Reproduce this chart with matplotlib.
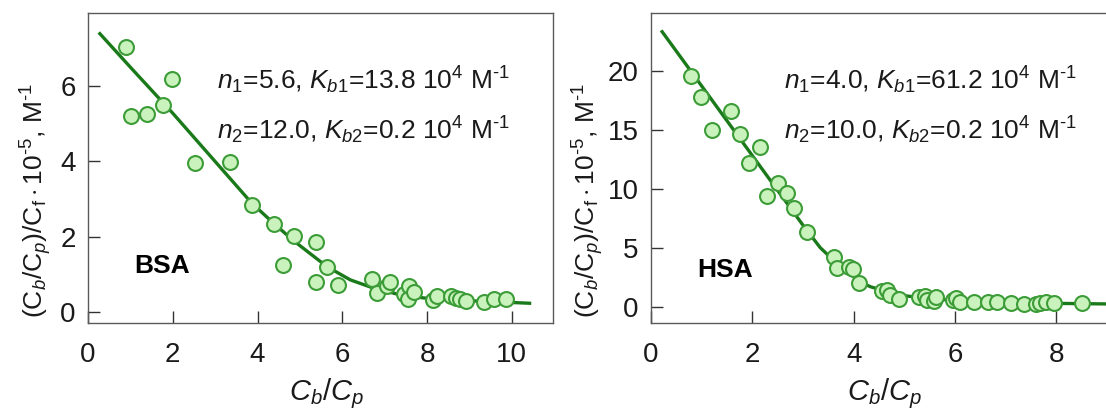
import matplotlib
matplotlib.use('Agg')
import matplotlib.pyplot as plt

plt.rcParams['font.family'] = ['Liberation Sans', 'DejaVu Sans']
plt.rcParams['mathtext.fontset'] = 'custom'
plt.rcParams['mathtext.rm'] = 'Liberation Sans'
plt.rcParams['mathtext.it'] = 'Liberation Sans:italic'
plt.rcParams['mathtext.bf'] = 'Liberation Sans:bold'

# ---------------- data ----------------
bsa_x = [0.90, 1.02, 1.40, 1.77, 1.98, 2.53, 3.34, 3.86, 4.39, 4.59, 4.85, 5.39,
         5.39, 5.64, 5.91, 6.69, 6.82, 7.06, 7.13, 7.46, 7.57, 7.54, 7.69, 8.14,
         8.24, 8.57, 8.69, 8.79, 8.93, 9.34, 9.57, 9.87]
bsa_y = [7.04, 5.21, 5.25, 5.51, 6.20, 3.96, 3.98, 2.84, 2.35, 1.26, 2.03, 1.86,
         0.81, 1.21, 0.72, 0.88, 0.50, 0.70, 0.80, 0.48, 0.70, 0.35, 0.54, 0.33,
         0.43, 0.44, 0.39, 0.35, 0.30, 0.28, 0.35, 0.35]
bsa_fit_x = [0.28, 1.0, 2.0, 3.0, 3.86, 4.39, 4.85, 5.64, 6.19, 6.69, 7.37, 8.0,
             8.94, 10.0, 10.42]
bsa_fit_y = [7.39, 6.50, 5.28, 4.00, 2.90, 2.35, 1.90, 1.21, 0.86, 0.66, 0.46,
             0.37, 0.31, 0.26, 0.24]

hsa_x = [0.78, 0.99, 1.20, 1.58, 1.75, 1.94, 2.16, 2.28, 2.50, 2.69, 2.82, 3.08,
         3.61, 3.67, 3.90, 3.99, 4.10, 4.56, 4.66, 4.72, 4.90, 5.28, 5.41, 5.45,
         5.58, 5.63, 5.97, 6.01, 6.09, 6.37, 6.65, 6.83, 7.11, 7.37, 7.59, 7.68,
         7.80, 7.95, 8.51]
hsa_y = [19.55, 17.74, 14.97, 16.58, 14.60, 12.15, 13.56, 9.41, 10.45, 9.60, 8.33,
         6.36, 4.24, 3.25, 3.33, 3.16, 1.98, 1.36, 1.41, 0.99, 0.65, 0.85, 0.90,
         0.56, 0.48, 0.79, 0.56, 0.71, 0.42, 0.37, 0.37, 0.42, 0.34, 0.23, 0.20,
         0.28, 0.40, 0.28, 0.28]
hsa_fit_x = [0.22, 1.0, 2.0, 3.0, 3.34, 3.61, 4.0, 4.10, 4.33, 4.66, 5.05, 5.64,
             6.30, 7.29, 7.95, 9.0]
hsa_fit_y = [23.3, 18.7, 12.8, 6.9, 5.0, 3.9, 2.6, 2.15, 1.69, 1.27, 0.90, 0.62,
             0.51, 0.37, 0.28, 0.23]

bsa_xticks = [0, 2, 4, 6, 8, 10]
bsa_yticks = [0, 2, 4, 6]
hsa_xticks = [0, 2, 4, 6, 8]
hsa_yticks = [0, 5, 10, 15, 20]

bsa_text = [r'$\mathit{n_1}$=5.6, $\mathit{K_{b1}}$=13.8 10$^4$ M$^{\text{-}1}$',
            r'$\mathit{n_2}$=12.0, $\mathit{K_{b2}}$=0.2 10$^4$ M$^{\text{-}1}$']
hsa_text = [r'$\mathit{n_1}$=4.0, $\mathit{K_{b1}}$=61.2 10$^4$ M$^{\text{-}1}$',
            r'$\mathit{n_2}$=10.0, $\mathit{K_{b2}}$=0.2 10$^4$ M$^{\text{-}1}$']

xlabel = r'$C_b/C_p$'
ylabel = (r'$(\mathrm{C}_{\mathit{b}}/\mathrm{C}_{\mathit{p}})/\mathrm{C}_{\mathrm{f}}'
          r'\cdot10^{\text{-}5}$, M$^{\text{-}1}$')

# ---------------- layout ----------------
W, H = 1106, 418
fig = plt.figure(figsize=(W / 100, H / 100), dpi=100)


def px_axes(l, r, t, b):
    return [l / W, 1 - b / H, (r - l) / W, (b - t) / H]


ax1 = fig.add_axes(px_axes(88, 553.3, 13.3, 322.7))
ax2 = fig.add_axes(px_axes(651, 1107, 13.3, 322.7))

FILL = '#c9f2bd'
EDGE = '#3c9c37'
LINE = '#1a7a1a'
SPINE = '#5a5a5a'
TXT = '#1a1a1a'


def style(ax, xlim, ylim, xt, yt):
    ax.set_xlim(*xlim)
    ax.set_ylim(*ylim)
    ax.set_xticks(xt)
    ax.set_yticks(yt)
    for s in ax.spines.values():
        s.set_color(SPINE)
        s.set_linewidth(1.0)
    ax.tick_params(direction='in', length=8.3, width=1.0, color='#333333',
                   labelsize=20, labelcolor=TXT, top=False, right=False)
    ax.tick_params(axis='x', pad=14)
    ax.tick_params(axis='y', pad=9)


ax1.plot(bsa_fit_x, bsa_fit_y, color=LINE, lw=2.4, zorder=2)
ax1.scatter(bsa_x, bsa_y, s=115, facecolor=FILL, edgecolor=EDGE, linewidths=1.5, zorder=3)
style(ax1, (0, 10.98), (-0.276, 7.93), bsa_xticks, bsa_yticks)

ax2.plot(hsa_fit_x, hsa_fit_y, color=LINE, lw=2.4, zorder=2)
ax2.scatter(hsa_x, hsa_y, s=115, facecolor=FILL, edgecolor=EDGE, linewidths=1.5, zorder=3)
style(ax2, (0, 9.0), (-1.36, 24.86), hsa_xticks, hsa_yticks)
ax2.spines['right'].set_visible(False)


def ftext(x, y, s, **kw):
    fig.text(x / W, 1 - y / H, s, **kw)


for i, yy in enumerate([89, 139]):
    ftext(216.7, yy, bsa_text[i], fontsize=19, color=TXT, va='baseline')
    ftext(784, yy, hsa_text[i], fontsize=19, color=TXT, va='baseline')

ftext(134, 273, 'BSA', fontsize=19, fontweight='bold', color='black', va='baseline')
ftext(697, 277, 'HSA', fontsize=19, fontweight='bold', color='black', va='baseline')

ftext(326, 400, xlabel, fontsize=21, color=TXT, ha='center', va='baseline')
ftext(884, 400, xlabel, fontsize=21, color=TXT, ha='center', va='baseline')

ftext(36, 200, ylabel, fontsize=19, color=TXT, ha='center', va='center', rotation=90)
ftext(588, 200, ylabel, fontsize=19, color=TXT, ha='center', va='center', rotation=90)

fig.savefig('out.png', dpi=100)
